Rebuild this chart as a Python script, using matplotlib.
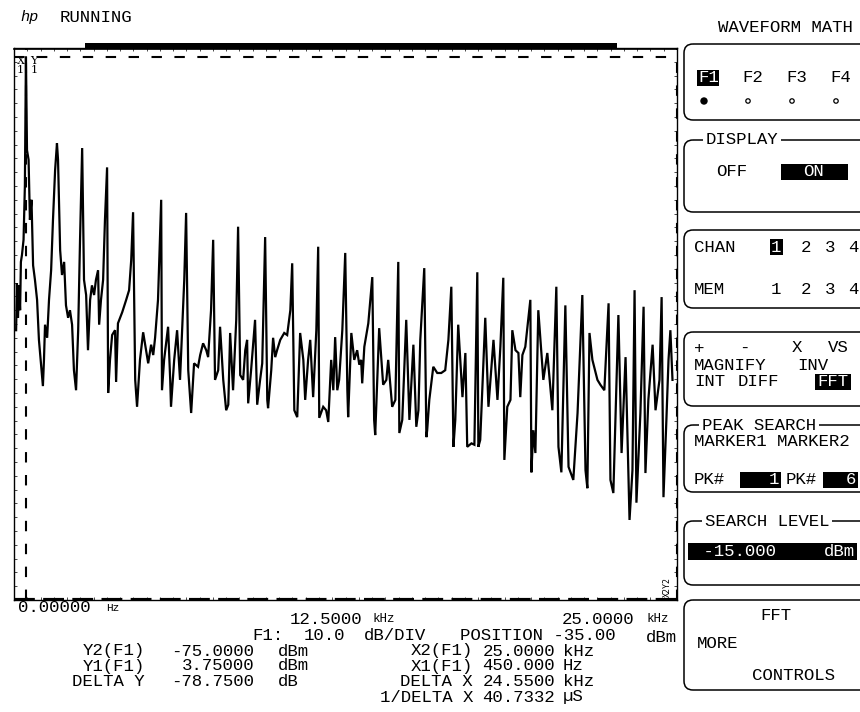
import numpy as np
import matplotlib.pyplot as plt
from matplotlib.patches import FancyBboxPatch, Rectangle, Circle

# FFT trace: frequency (kHz) and level (dBm)
freq_khz = [
    0.08, 0.11, 0.15, 0.19, 0.23, 0.26, 0.30, 0.36, 0.41, 0.45,
    0.49, 0.55, 0.60, 0.66, 0.72, 0.79, 0.87, 0.94, 1.09, 1.13,
    1.17, 1.25, 1.32, 1.40, 1.47, 1.55, 1.62,
    1.66, 1.74, 1.81, 1.89, 1.96, 2.04, 2.11, 2.19, 2.26, 2.34, 2.42, 2.49, 2.57,
    2.64, 2.72, 2.79, 2.87, 2.94, 3.02, 3.09, 3.17, 3.21, 3.28, 3.36, 3.43, 3.51,
    3.55, 3.62, 3.70, 3.81, 3.85, 3.92, 4.08, 4.23, 4.34, 4.42, 4.49,
    4.57, 4.64, 4.75, 4.87, 4.98, 5.06, 5.17, 5.25, 5.32, 5.43, 5.55,
    5.58, 5.66, 5.81, 5.89, 5.92, 6.04, 6.15, 6.26, 6.34, 6.42, 6.49,
    6.57, 6.68, 6.79, 6.94, 7.02, 7.13, 7.25, 7.32, 7.43, 7.51,
    7.58, 7.70, 7.77, 7.89, 8.00, 8.08, 8.15, 8.26, 8.38, 8.45,
    8.53, 8.64, 8.72, 8.79, 8.83, 8.94, 9.09, 9.17, 9.28, 9.36, 9.47,
    9.55, 9.58, 9.70, 9.77, 9.85, 9.92, 10.04, 10.19, 10.30, 10.42, 10.49,
    10.57, 10.68, 10.79, 10.91, 10.98, 11.09, 11.17, 11.28, 11.40, 11.47,
    11.51, 11.66, 11.77, 11.85, 11.96, 12.04, 12.11, 12.19, 12.26, 12.38, 12.49,
    12.57, 12.60, 12.72, 12.83, 12.94, 13.02, 13.09, 13.13, 13.21, 13.36, 13.51,
    13.58, 13.62, 13.77, 13.92, 14.04, 14.11, 14.26, 14.38, 14.49,
    14.53, 14.64, 14.79, 14.91, 15.06, 15.17, 15.25, 15.32, 15.47,
    15.55, 15.58, 15.66, 15.81, 15.96, 16.11, 16.26, 16.38, 16.49,
    16.57, 16.64, 16.75, 16.91, 17.02, 17.09, 17.25, 17.36, 17.47,
    17.51, 17.58, 17.77, 17.89, 18.08, 18.23, 18.34, 18.45,
    18.49, 18.60, 18.72, 18.79, 18.91, 19.02, 19.09, 19.17, 19.28, 19.47,
    19.51, 19.58, 19.66, 19.77, 19.96, 20.11, 20.30, 20.45,
    20.53, 20.64, 20.79, 20.91, 21.09, 21.25, 21.43,
    21.55, 21.62, 21.70, 21.81, 22.00, 22.11, 22.26, 22.42,
    22.49, 22.60, 22.79, 22.91, 23.06, 23.21, 23.32, 23.40,
    23.47, 23.62, 23.74, 23.81, 23.92, 24.08, 24.19, 24.34, 24.42,
    24.49, 24.60, 24.68, 24.75, 24.83,
]
level_dbm = [
    -35.9, -29.1, -34.1, -29.4, -33.0, -26.0, -25.0, -22.8, -15.0, 3.75,
    -9.8, -11.2, -19.9, -17.0, -26.5, -28.6, -31.5, -37.3, -44.0, -40.2,
    -35.1, -37.0, -31.5, -27.2, -19.9, -12.7, -8.8,
    -11.2, -24.3, -27.9, -26.0, -32.3, -34.1, -33.0, -35.1, -41.7, -44.6, -35.9, -22.8, -9.5,
    -28.6, -30.8, -38.8, -31.5, -29.4, -30.8, -28.6, -27.2, -35.1, -31.5, -28.6, -19.9, -12.3,
    -45.0, -40.2, -36.6, -35.9, -43.4, -34.9, -33.3, -31.5, -30.1, -25.7, -18.8,
    -43.1, -47.0, -40.2, -36.2, -38.8, -40.7, -38.0, -39.5, -37.0, -31.5, -17.0,
    -44.6, -40.2, -35.4, -43.1, -47.0, -40.2, -35.9, -43.1, -35.9, -28.6, -18.9,
    -41.7, -47.9, -40.7, -41.2, -39.5, -37.8, -38.8, -39.8, -33.0, -22.8,
    -43.1, -41.7, -35.4, -43.1, -47.5, -46.7, -36.3, -44.6, -34.4, -20.9,
    -42.4, -43.1, -38.8, -37.3, -46.5, -41.7, -34.4, -46.7, -43.1, -40.7, -22.4,
    -46.0, -47.2, -41.7, -37.0, -39.8, -38.8, -37.3, -36.3, -36.6, -33.0, -26.2,
    -47.5, -48.5, -36.3, -40.2, -46.0, -40.2, -37.3, -45.6, -35.9, -23.8,
    -48.6, -47.0, -47.5, -49.2, -40.2, -44.6, -36.9, -44.6, -43.1, -35.9, -24.7,
    -44.6, -48.5, -36.3, -40.2, -38.8, -40.9, -40.2, -43.6, -38.3, -34.9, -28.2,
    -48.9, -51.1, -35.6, -43.8, -43.1, -40.2, -47.0, -46.0, -26.0,
    -50.8, -48.9, -34.4, -48.9, -38.0, -49.9, -47.5, -37.3, -26.9,
    -51.4, -50.4, -46.0, -41.2, -42.1, -42.1, -41.7, -37.3, -29.6,
    -52.8, -48.9, -35.1, -45.6, -39.2, -52.8, -52.3, -52.5, -27.5,
    -52.8, -51.8, -34.1, -47.0, -37.3, -46.0, -38.3, -28.3,
    -54.7, -47.0, -46.0, -35.9, -38.8, -39.2, -45.6, -39.5, -38.3, -31.5,
    -56.5, -50.4, -53.7, -33.0, -43.1, -39.2, -47.5, -29.6,
    -52.8, -56.5, -32.3, -55.7, -57.6, -47.9, -30.8,
    -56.2, -58.8, -36.3, -40.2, -43.1, -43.8, -44.6, -32.0,
    -57.6, -59.5, -33.7, -53.7, -39.8, -63.4, -56.2, -30.1,
    -60.9, -47.9, -32.5, -56.6, -46.0, -38.0, -47.5, -43.1, -31.1,
    -60.1, -48.9, -40.2, -35.9, -43.1,
]

# scope settings and marker readouts
span_khz = 25.0
db_per_div = 10.0
position_dbm = -35.0
x1_khz, x2_khz = 0.45, 25.0
y1_dbm, y2_dbm = 3.75, -75.0

MONO = 'Liberation Mono'
FS = 12.5

fig = plt.figure(figsize=(8.6, 7.12), dpi=100)
fig.patch.set_facecolor('white')

# scope graticule
ax = fig.add_axes([14 / 860, 112 / 712, 663 / 860, 552 / 712])
ax.plot(freq_khz, level_dbm, color='black', lw=1.6, solid_joinstyle='miter')
ax.set_xlim(0, span_khz)
ax.set_ylim(position_dbm - 4 * db_per_div, position_dbm + 4 * db_per_div)

# marker lines
ax.axhline(y1_dbm, color='black', lw=1.5, ls=(0, (5, 6)))
ax.axvline(x1_khz, color='black', lw=1.5, ls=(0, (5, 6)))
ax.axhline(y2_dbm, color='black', lw=3, ls=(0, (5, 2)))
ax.axvline(x2_khz, color='black', lw=1.5, ls=(0, (5, 6)))

ax.set_xticks(np.arange(0, span_khz + 0.01, 0.5))
ax.set_yticks(np.arange(-75, 5.01, 2))
ax.tick_params(direction='in', length=2.5, width=0.5, top=True, right=True,
               labelbottom=False, labelleft=False)
for s in ax.spines.values():
    s.set_linewidth(1.0)

ax.text(0.004, 0.985, 'X\n1', transform=ax.transAxes, fontsize=8,
        family='DejaVu Serif', va='top', ha='left', linespacing=0.8)
ax.text(0.025, 0.985, 'Y\n1', transform=ax.transAxes, fontsize=8,
        family='DejaVu Serif', va='top', ha='left', linespacing=0.8)
ax.text(0.992, 0.005, 'X2Y2', transform=ax.transAxes, fontsize=6,
        family='DejaVu Sans Mono', va='bottom', ha='right', rotation=90)

# overlay in screen pixels for the readout and softkey panel
ov = fig.add_axes([0, 0, 1, 1])
ov.set_xlim(0, 860)
ov.set_ylim(712, 0)
ov.axis('off')


def txt(x, y, s, ha='left', color='black', size=FS, **kw):
    ov.text(x, y, s, ha=ha, va='center', fontsize=size, family=MONO, color=color, **kw)


def inv(x0, y0, x1, y1):
    ov.add_patch(Rectangle((x0, y0), x1 - x0, y1 - y0, color='black', lw=0))


# header
txt(20, 17, 'hp', style='italic', size=11)
txt(60, 17, 'RUNNING')
inv(85, 43, 617, 49)
ov.plot([14, 677], [49, 49], color='black', lw=1.2)

# x axis labels and readouts
txt(18, 608, '0.00000')
txt(106, 608, 'Hz', size=8)
txt(290, 619, '12.5000')
txt(372, 619, 'kHz', size=9)
txt(562, 619, '25.0000')
txt(646, 619, 'kHz', size=9)

txt(252, 635, 'F1:')
txt(304, 635, '10.0')
txt(364, 635, 'dB/DIV')
txt(460, 635, 'POSITION -35.00')
txt(646, 637, 'dBm')

rows_y = [651, 666, 682]
left_labels = ['Y2(F1)', 'Y1(F1)', 'DELTA Y']
left_values = ['-75.0000', '3.75000', '-78.7500']
left_units = ['dBm', 'dBm', 'dB']
right_labels = ['X2(F1)', 'X1(F1)', 'DELTA X', '1/DELTA X']
right_values = ['25.0000', '450.000', '24.5500', '40.7332']
right_units = ['kHz', 'Hz', 'kHz', 'µS']
for yy, lab, val, un in zip(rows_y, left_labels, left_values, left_units):
    txt(145, yy, lab, ha='right')
    txt(254, yy, val, ha='right')
    txt(278, yy, un)
for yy, lab, val, un in zip(rows_y + [697], right_labels, right_values, right_units):
    txt(473, yy, lab, ha='right')
    txt(555, yy, val, ha='right')
    txt(563, yy, un)

# softkey panel
txt(718, 28, 'WAVEFORM MATH')


def panel(y0, y1):
    ov.add_patch(FancyBboxPatch((684, y0), 200, y1 - y0,
                                boxstyle='round,pad=0,rounding_size=9',
                                fc='none', ec='black', lw=1.1))


def header(x, y, s):
    ov.text(x, y, s, ha='left', va='center', fontsize=FS, family=MONO,
            bbox=dict(fc='white', ec='none', pad=2))


panel(44, 120)
inv(697, 70, 719, 86)
txt(698, 78, 'F1', color='white')
for xx, lab in zip([742, 786, 830], ['F2', 'F3', 'F4']):
    txt(xx, 78, lab)
ov.add_patch(Circle((704, 101), 3, color='black'))
for xx in [748, 792, 836]:
    ov.add_patch(Circle((xx, 101), 2.2, fc='none', ec='black', lw=0.9))

panel(140, 212)
header(706, 140, 'DISPLAY')
txt(716, 172, 'OFF')
inv(781, 164, 848, 180)
txt(814, 172, 'ON', ha='center', color='white')

panel(230, 308)
txt(694, 247, 'CHAN')
inv(770, 239, 783, 255)
txt(776, 247, '1', ha='center', color='white')
for xx, lab in zip([806, 830, 853], ['2', '3', '4']):
    txt(xx, 247, lab, ha='center')
txt(694, 290, 'MEM')
for xx, lab in zip([776, 806, 830, 853], ['1', '2', '3', '4']):
    txt(xx, 290, lab, ha='center')

panel(332, 406)
for xx, lab in zip([699, 744, 797, 838], ['+', '-', 'X', 'VS']):
    txt(xx, 348, lab, ha='center')
txt(694, 365, 'MAGNIFY')
txt(797, 365, 'INV')
txt(694, 382, 'INT')
txt(738, 382, 'DIFF')
inv(815, 374, 851, 390)
txt(833, 382, 'FFT', ha='center', color='white')

panel(425, 492)
header(702, 425, 'PEAK SEARCH')
txt(694, 441, 'MARKER1 MARKER2')
txt(694, 480, 'PK#')
inv(740, 472, 781, 488)
txt(779, 480, '1', ha='right', color='white')
txt(786, 480, 'PK#')
inv(823, 472, 858, 488)
txt(856, 480, '6', ha='right', color='white')

panel(521, 585)
header(705, 521, 'SEARCH LEVEL')
inv(688, 543, 857, 560)
txt(693, 551, ' -15.000', color='white')
txt(855, 551, 'dBm', ha='right', color='white')

panel(600, 690)
txt(760, 616, 'FFT')
txt(697, 643, 'MORE')
txt(752, 675, 'CONTROLS')

plt.savefig('out.png', dpi=100)
